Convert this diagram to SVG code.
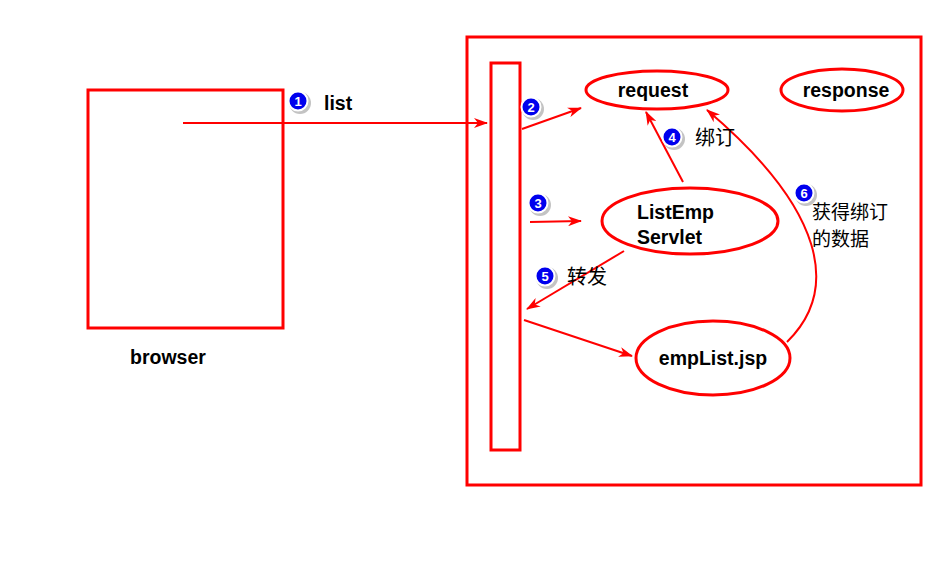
<svg xmlns="http://www.w3.org/2000/svg" width="945" height="582" viewBox="0 0 945 582">
<style>
.box{fill:none;stroke:#ff0000;stroke-width:3}
.ell{fill:#fff;stroke:#ff0000;stroke-width:3}
.ln{fill:none;stroke:#ff0000;stroke-width:2}
.t{font-family:"Liberation Sans",Arial,sans-serif;font-weight:bold;font-size:19.5px;fill:#000}
.c{font-family:"Noto Sans CJK SC",sans-serif;font-size:20px;fill:#000}
.c2{font-family:"Noto Sans CJK SC",sans-serif;font-size:19px;fill:#000}
.bd circle.s{fill:#888;opacity:0.5}
.bd circle.b{fill:#0000ee;stroke:#fff;stroke-width:2}
.bd text{font-family:"Liberation Sans",Arial,sans-serif;font-weight:bold;font-size:13px;fill:#fff;text-anchor:middle}
</style>
<defs>
<marker id="ah" markerWidth="14" markerHeight="10" refX="13" refY="5" orient="auto" markerUnits="userSpaceOnUse">
<path d="M0,0 L14,5 L0,10 L4,5 Z" fill="#ff0000"/>
</marker>
</defs>
<rect width="945" height="582" fill="#fff"/>
<g id="browser">
<rect class="box" x="88" y="90" width="195" height="238"/>
<text class="t" x="130" y="364">browser</text>
</g>
<g id="server">
<rect class="box" x="467" y="37" width="454" height="448"/>
</g>
<g id="bar">
<rect class="box" x="491" y="63" width="29" height="387"/>
</g>
<g id="request">
<ellipse class="ell" cx="657" cy="90" rx="71" ry="19"/>
<text class="t" x="653" y="97" text-anchor="middle">request</text>
</g>
<g id="response">
<ellipse class="ell" cx="842" cy="90" rx="61" ry="21"/>
<text class="t" x="846" y="97" text-anchor="middle">response</text>
</g>
<g id="servlet">
<ellipse class="ell" cx="690" cy="221" rx="88" ry="33"/>
<text class="t" x="637" y="219">ListEmp</text>
<text class="t" x="637" y="244">Servlet</text>
</g>
<g id="jsp">
<ellipse class="ell" cx="713" cy="358" rx="77" ry="37"/>
<text class="t" x="713" y="365" text-anchor="middle">empList.jsp</text>
</g>
<g id="connectors">
<line class="ln" x1="183" y1="123" x2="487" y2="123" marker-end="url(#ah)"/>
<line class="ln" x1="522" y1="129" x2="581" y2="108" marker-end="url(#ah)"/>
<line class="ln" x1="530" y1="222" x2="581" y2="221" marker-end="url(#ah)"/>
<line class="ln" x1="683" y1="182" x2="646" y2="112" marker-end="url(#ah)"/>
<line class="ln" x1="624" y1="251" x2="527" y2="309" marker-end="url(#ah)"/>
<line class="ln" x1="524" y1="320" x2="632" y2="356" marker-end="url(#ah)"/>
<path class="ln" d="M787,342 C840,290 825,210 707,110" marker-end="url(#ah)"/>
</g>
<g id="labels">
<g class="bd"><circle class="s" cx="300" cy="103" r="11"/><circle class="b" cx="298" cy="101" r="9.5"/><text x="298" y="106">1</text></g>
<text class="t" x="324" y="110">list</text>
<g class="bd"><circle class="s" cx="533" cy="109" r="11"/><circle class="b" cx="531" cy="107" r="9.5"/><text x="531" y="112">2</text></g>
<g class="bd"><circle class="s" cx="540" cy="205" r="11"/><circle class="b" cx="538" cy="203" r="9.5"/><text x="538" y="208">3</text></g>
<g class="bd"><circle class="s" cx="674" cy="139" r="11"/><circle class="b" cx="672" cy="137" r="9.5"/><text x="672" y="142">4</text></g>
<text class="c" x="695" y="145">绑订</text>
<g class="bd"><circle class="s" cx="547" cy="278" r="11"/><circle class="b" cx="545" cy="276" r="9.5"/><text x="545" y="281">5</text></g>
<text class="c" x="567" y="284">转发</text>
<g class="bd"><circle class="s" cx="806" cy="195" r="11"/><circle class="b" cx="804" cy="193" r="9.5"/><text x="804" y="198">6</text></g>
<text class="c2" x="812" y="219">获得绑订</text>
<text class="c2" x="812" y="246">的数据</text>
</g>
</svg>
